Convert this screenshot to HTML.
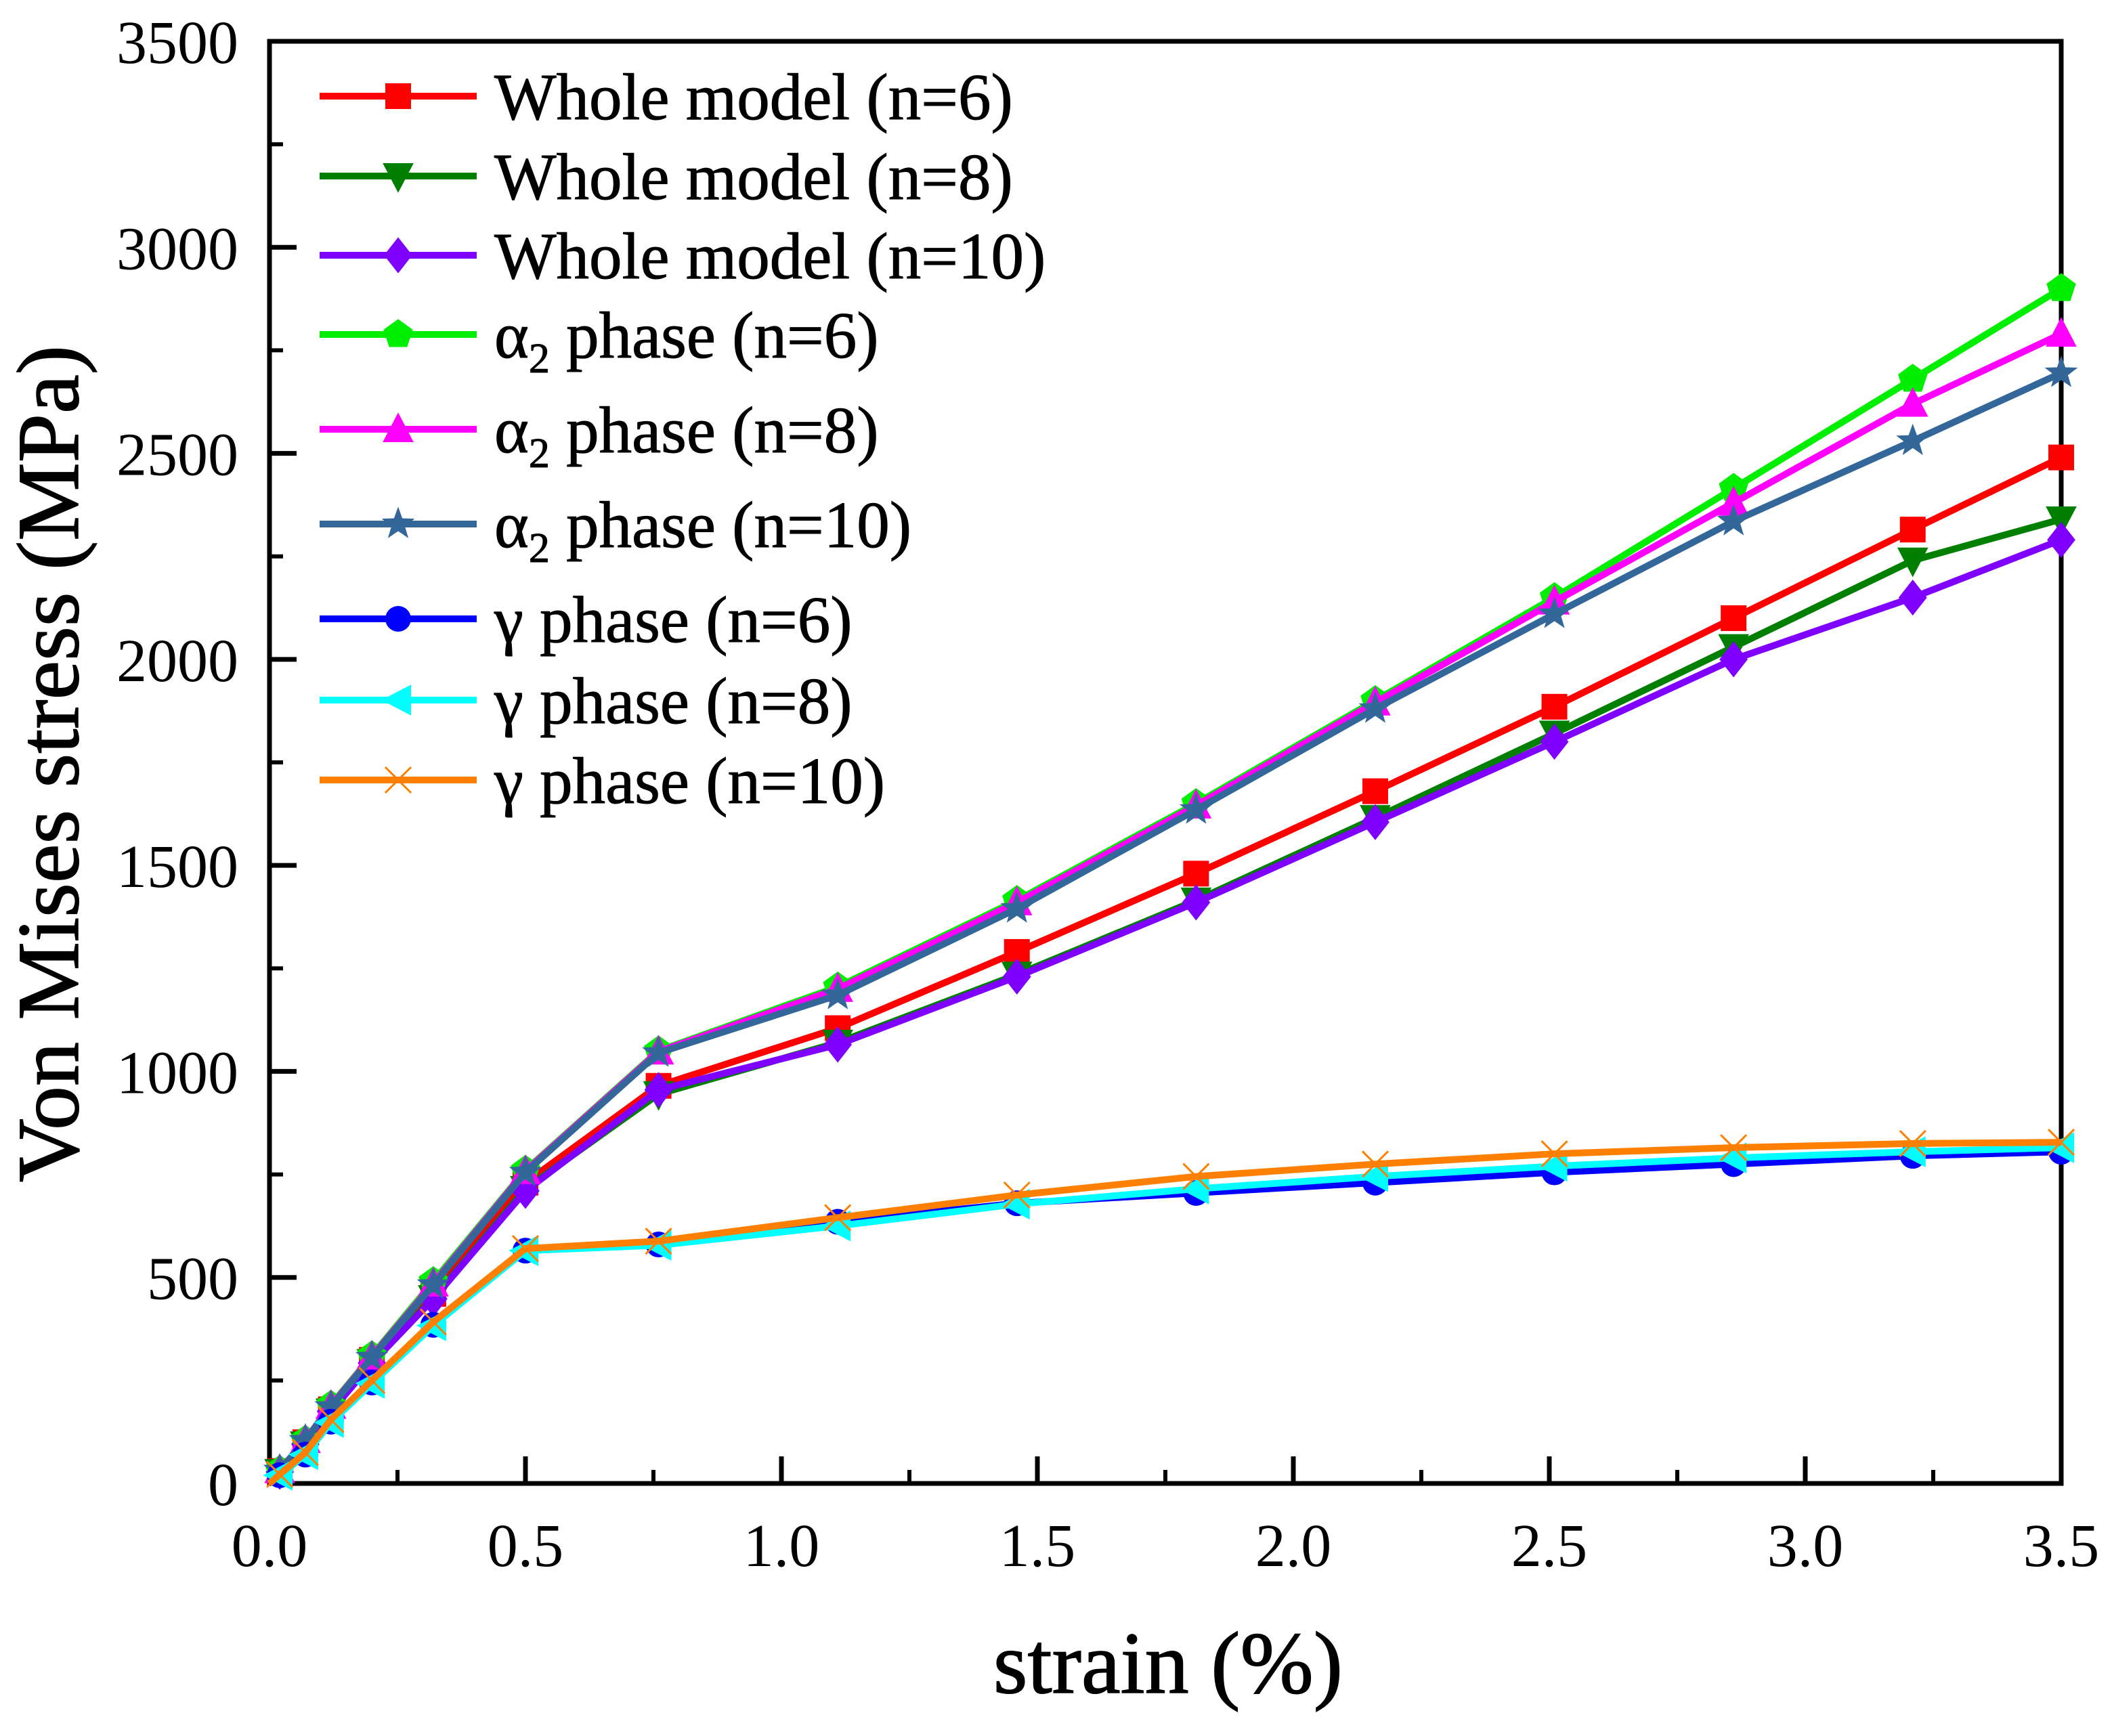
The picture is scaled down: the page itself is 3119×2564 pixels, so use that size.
<!DOCTYPE html>
<html><head><meta charset="utf-8"><style>
html,body{margin:0;padding:0;background:#fff}
svg{display:block}
text{font-family:"Liberation Serif",serif;fill:#000}
</style></head><body>
<svg id="chart" width="3119" height="2564" viewBox="0 0 3119 2564" xmlns="http://www.w3.org/2000/svg">
<g id="grid"></g>
<g id="series"></g>
<g id="legend"></g>
<text x="1725" y="2500" font-size="130" text-anchor="middle" stroke="#000" stroke-width="1.5">strain (%)</text>
<text transform="translate(115,1128) rotate(-90)" font-size="130" text-anchor="middle" stroke="#000" stroke-width="1.5">Von Mises stress (MPa)</text>
</svg>
<script>
const strain=[0,0.02,0.07,0.12,0.2,0.32,0.5,0.76,1.11,1.46,1.81,2.16,2.51,2.86,3.21,3.5];
const wholeN6=[0,30,100,180,300,460,730,965,1105,1290,1480,1680,1885,2100,2315,2490];
const wholeN8=[0,28,95,175,295,450,715,945,1070,1235,1415,1615,1820,2030,2240,2340];
const wholeN10=[0,28,95,175,292,448,710,955,1065,1230,1410,1605,1800,2000,2150,2290];
const alphaN6=[0,32,105,190,310,490,760,1050,1205,1415,1650,1900,2150,2415,2680,2900];
const alphaN8=[0,32,105,188,308,485,758,1048,1200,1410,1645,1895,2140,2380,2620,2790];
const alphaN10=[0,32,104,186,306,482,755,1045,1185,1395,1635,1880,2110,2335,2530,2695];
const gammaN6=[0,20,70,150,245,385,565,580,635,680,705,730,755,775,795,805];
const gammaN8=[0,20,70,148,243,383,565,578,625,678,715,745,770,790,805,815];
const gammaN10=[0,22,75,155,250,392,570,588,645,700,745,775,800,815,825,828];
const seriesNames=["Whole model (n=6)","Whole model (n=8)","Whole model (n=10)","α2 phase (n=6)","α2 phase (n=8)","α2 phase (n=10)","γ phase (n=6)","γ phase (n=8)","γ phase (n=10)"];
const seriesValues=[wholeN6,wholeN8,wholeN10,alphaN6,alphaN8,alphaN10,gammaN6,gammaN8,gammaN10];
const xTicks=[0,0.5,1,1.5,2,2.5,3,3.5];
const xTickLabels=["0.0","0.5","1.0","1.5","2.0","2.5","3.0","3.5"];
const yTicks=[0,500,1000,1500,2000,2500,3000,3500];
const yTickLabels=["0","500","1000","1500","2000","2500","3000","3500"];

const colors=["#ff0000","#007f00","#7f00ff","#00ee00","#ff00ff","#336699","#0000ff","#00ffff","#ff7f00"];
const markers=["square","tridown","diamond","pentagon","triup","star","circle","trileft","cross"];
const NS="http://www.w3.org/2000/svg";
const L=398,R=3044,B=2191,T=61;
function xs(v){return L+(v/3.5)*(R-L);}
function ys(v){return B-(v/3500)*(B-T);}
function mk(tag,attrs,parent){const e=document.createElementNS(NS,tag);for(const k in attrs)e.setAttribute(k,attrs[k]);parent.appendChild(e);return e;}
const grid=document.getElementById('grid');
const frame=mk('rect',{x:L,y:T,width:R-L,height:B-T,fill:'none',stroke:'#000','stroke-width':7},grid);


for(let i=0;i<xTicks.length;i++){
  const x=xs(xTicks[i]);
  const t=mk('line',{x1:x,x2:x,y1:B,y2:B-40,stroke:'#000','stroke-width':7},grid);
  
  
  const lb=mk('text',{x:x,y:B+122,'font-size':90,'text-anchor':'middle'},grid);
  lb.textContent=xTickLabels[i];
  
  
  if(i<xTicks.length-1){const xm=xs(xTicks[i]+0.25);
    const m=mk('line',{x1:xm,x2:xm,y1:B,y2:B-20,stroke:'#000','stroke-width':6},grid);
    
    }
}
for(let i=0;i<yTicks.length;i++){
  const y=ys(yTicks[i]);
  const t=mk('line',{x1:L,x2:L+40,y1:y,y2:y,stroke:'#000','stroke-width':7},grid);
  
  
  const lb=mk('text',{x:352,y:y+32,'font-size':90,'text-anchor':'end'},grid);
  lb.textContent=yTickLabels[i];
  
  
  if(i<yTicks.length-1){const ym=ys(yTicks[i]+250);
    const m=mk('line',{x1:L,x2:L+20,y1:ym,y2:ym,stroke:'#000','stroke-width':6},grid);
    
    }
}
function marker(type,cx,cy,col,parent){
  const s=19;let e;
  if(type==='square')e=mk('rect',{x:cx-s,y:cy-s,width:2*s,height:2*s,fill:col},parent);
  else if(type==='circle')e=mk('circle',{cx:cx,cy:cy,r:s,fill:col},parent);
  else if(type==='diamond')e=mk('polygon',{points:`${cx},${cy-s*1.4} ${cx+s*1.1},${cy} ${cx},${cy+s*1.4} ${cx-s*1.1},${cy}`,fill:col},parent);
  else if(type==='triup')e=mk('polygon',{points:`${cx},${cy-s*1.3} ${cx+s*1.2},${cy+s} ${cx-s*1.2},${cy+s}`,fill:col},parent);
  else if(type==='tridown')e=mk('polygon',{points:`${cx},${cy+s*1.3} ${cx+s*1.2},${cy-s} ${cx-s*1.2},${cy-s}`,fill:col},parent);
  else if(type==='trileft')e=mk('polygon',{points:`${cx-s*1.3},${cy} ${cx+s},${cy-s*1.2} ${cx+s},${cy+s*1.2}`,fill:col},parent);
  else if(type==='pentagon'){let p=[];for(let k=0;k<5;k++){const a=-Math.PI/2+k*2*Math.PI/5;p.push((cx+s*1.2*Math.cos(a))+','+(cy+s*1.2*Math.sin(a)));}e=mk('polygon',{points:p.join(' '),fill:col},parent);}
  else if(type==='star'){let p=[];for(let k=0;k<10;k++){const a=-Math.PI/2+k*Math.PI/5;const r=k%2?s*0.55:s*1.35;p.push((cx+r*Math.cos(a))+','+(cy+r*Math.sin(a)));}e=mk('polygon',{points:p.join(' '),fill:col},parent);}
  else {e=mk('path',{d:`M${cx-s},${cy-s}L${cx+s},${cy+s}M${cx+s},${cy-s}L${cx-s},${cy+s}`,stroke:col,'stroke-width':3,fill:'none'},parent);}
  return e;
}
const sg=document.getElementById('series');
for(let i=0;i<seriesValues.length;i++){
  const g=mk('g',{},sg);
  
  
  const pts=strain.map((x,j)=>xs(x)+','+ys(seriesValues[i][j])).join(' ');
  const pl=mk('polyline',{points:pts,fill:'none',stroke:colors[i],'stroke-width':10,'stroke-linejoin':'round'},g);
  
  
  for(let j=1;j<strain.length;j++){
    const m=marker(markers[i],xs(strain[j]),ys(seriesValues[i][j]),colors[i],g);
    
    
  }
}
const lg=document.getElementById('legend');
const rowsY=[142,260,377,494,634,774,914,1034,1152];
for(let i=0;i<seriesNames.length;i++){
  const g=mk('g',{},lg);
  
  
  const y=rowsY[i];
  mk('line',{x1:472,x2:704,y1:y,y2:y,stroke:colors[i],'stroke-width':10},g);
  marker(markers[i],588,y,colors[i],g);
  const t=mk('text',{x:730,y:y+34,'font-size':97,stroke:'#000','stroke-width':1},g);
  const nm=seriesNames[i];
  if(nm.startsWith('α2')){
    t.appendChild(document.createTextNode('α'));
    const sub=mk('tspan',{'font-size':62,dy:22},t);sub.textContent='2';
    const rest=mk('tspan',{dy:-22},t);rest.textContent=nm.slice(2);
  } else t.textContent=nm;
}
</script>
</body></html>
